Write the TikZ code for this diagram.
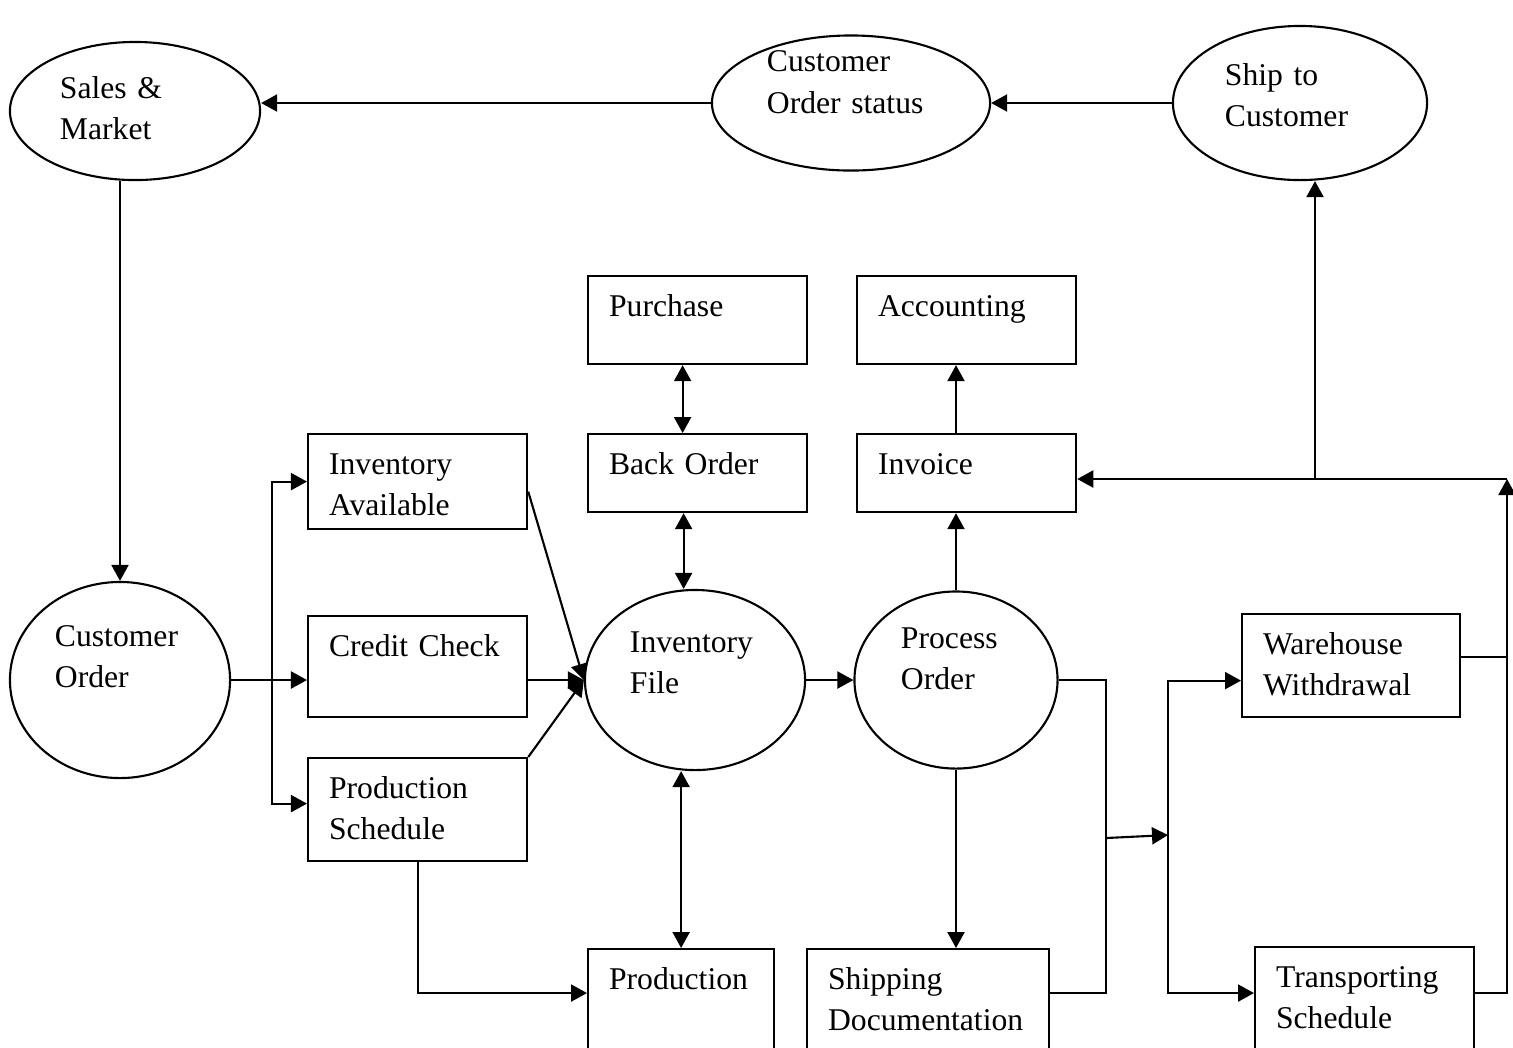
\documentclass[tikz,border=0pt]{standalone}
\usepackage{fontspec}
\setmainfont{Liberation Serif}
\usepackage{tikz}
\usetikzlibrary{shapes.geometric, arrows.meta, positioning}

\begin{document}
\begin{tikzpicture}[
    x=0.01cm, y=-0.01cm, line width=0.6pt,
    box/.style={rectangle, draw, anchor=north west, align=left, inner xsep=0.21cm, inner ysep=0pt, text width=1.77cm, text height=0.40cm, font=\fontsize{9pt}{11.8pt}\selectfont},
    oval/.style={ellipse, draw, align=left, inner sep=0pt, text height=0pt, font=\fontsize{9pt}{11.8pt}\selectfont},
    arrow/.style={-{Triangle[length=1.6mm, width=1.7mm]}},
    dblarrow/.style={{Triangle[length=1.6mm, width=1.7mm]}-{Triangle[length=1.6mm, width=1.7mm]}}
]
    \useasboundingbox (0,0) rectangle (1513,1047);

    % Top row
    \node[oval, minimum width=2.5cm, minimum height=1.38cm, text width=1.5cm, text depth=0.26cm] (sales) at (135,111) {Sales \&\\Market};
    \node[oval, minimum width=2.78cm, minimum height=1.35cm, text width=1.68cm, text depth=0.62cm] (status) at (851,103) {Customer\\Order status};
    \node[oval, minimum width=2.54cm, minimum height=1.54cm, text width=1.5cm, text depth=0.36cm] (ship) at (1300,103) {Ship to\\Customer};

    % Middle ellipses
    \node[oval, minimum width=2.2cm, minimum height=1.96cm, text width=1.3cm, text depth=0.68cm] (corder) at (120,680) {Customer\\Order};
    \node[oval, minimum width=2.2cm, minimum height=1.8cm, text width=1.3cm, text depth=0.56cm] (invfile) at (695,680) {Inventory\\File};
    \node[oval, minimum width=2.03cm, minimum height=1.77cm, text width=1.1cm, text depth=0.64cm] (process) at (956,680) {Process\\Order};

    % Boxes
    \node[box, text depth=0.48cm] (purchase) at (587,275) {Purchase};
    \node[box, text depth=0.48cm] (accounting) at (856,275) {Accounting};
    \node[box, text depth=0.38cm] (backorder) at (587,433) {Back Order};
    \node[box, text depth=0.38cm] (invoice) at (856,433) {Invoice};
    \node[box, text depth=0.55cm] (invavail) at (307,433) {Inventory\\Available};
    \node[box, text depth=0.61cm] (credit) at (307,615) {Credit Check};
    \node[box, text depth=0.63cm] (prodsched) at (307,757) {Production\\Schedule};
    \node[box, text width=1.44cm, text depth=0.72cm] (production) at (587,948) {Production};
    \node[box, text width=2.0cm, text depth=0.72cm] (shipping) at (806,948) {Shipping\\Documentation};
    \node[box, text width=1.76cm, text depth=0.63cm] (warehouse) at (1241,613) {Warehouse\\Withdrawal};
    \node[box, text depth=0.72cm] (transport) at (1254,946) {Transporting\\Schedule};

    % Junctions
    \coordinate (split) at (272,680);
    \coordinate (join) at (1106,838);
    \coordinate (fork) at (1168,835);
    \coordinate (rise) at (1507,479);
    \coordinate (tap) at (1315,479);

    % Top loop
    \draw[arrow] (ship) -- (status);
    \draw[arrow] (status.west) -- (status.west -| sales.east);
    \draw[arrow] (corder.north |- sales.south) -- (corder.north);

    % Customer order split
    \draw[arrow] (corder.east) -- (corder.east -| credit.west);
    \draw[arrow] (split) |- (invavail.west);
    \draw[arrow] (split) |- ([yshift=0.06cm]prodsched.west);

    % Into inventory file
    \draw[arrow] ([yshift=-0.1cm]invavail.east) -- (invfile.west);
    \draw[arrow] (credit.east |- invfile.west) -- (invfile.west);
    \draw[arrow] (prodsched.north east) -- (invfile.west);
    \draw[arrow] (prodsched.south) |- ([yshift=-0.45cm]production.north west);

    % Inventory file links
    \draw[dblarrow] ([xshift=-0.15cm]purchase.south) -- ([xshift=-0.15cm]backorder.north);
    \draw[dblarrow] ([xshift=-0.14cm]backorder.south) -- ([xshift=-0.14cm]backorder.south |- invfile.north);
    \draw[dblarrow] (invfile.south -| production.north) -- (production.north);
    \draw[arrow] (invfile.east) -- (process.west);

    % Process order
    \draw[arrow] (process.north) -- (process.north |- invoice.south);
    \draw[arrow] (process.north |- invoice.north) -- (process.north |- accounting.south);
    \draw[arrow] (process.south) -- (process.south |- shipping.north);
    \draw (process.east) -| (join) |- ([yshift=-0.45cm]shipping.north east);
    \draw[arrow] (join) -- (fork);
    \draw[arrow] (fork) |- ([yshift=-0.15cm]warehouse.west);
    \draw[arrow] (fork) |- ([yshift=-0.47cm]transport.north west);

    % Right side
    \draw ([yshift=-0.44cm]warehouse.north east) -- ([yshift=-0.44cm]warehouse.north east -| rise);
    \draw[arrow] ([yshift=-0.47cm]transport.north east) -| (rise);
    \draw[arrow] (rise) -- (rise -| invoice.east);
    \draw[arrow] (tap) -- (tap |- ship.south);
\end{tikzpicture}
\end{document}
